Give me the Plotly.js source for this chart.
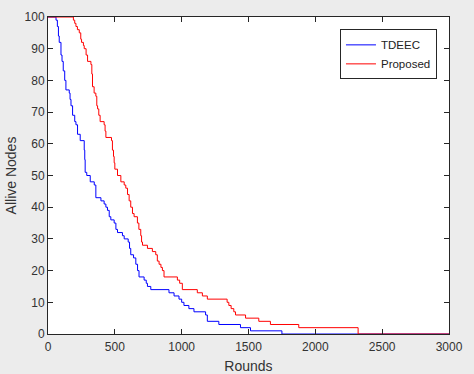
<!DOCTYPE html>
<html>
<head>
<meta charset="utf-8">
<script src="https://cdn.plot.ly/plotly-3.0.1.min.js"></script>
<style>
html,body{margin:0;padding:0;background:#ececec;}
#chart{width:474px;height:374px;}
</style>
</head>
<body>
<div id="chart"></div>
<script>
var tdeecRounds = [0,60,70,78,84,97,105,114,125,134,159,165,172,184,200,209,221,241,271,275,278,290,316,346,358,396,420,433,445,458,470,495,508,520,557,570,600,610,619,640,657,670,681,719,735,744,769,905,943,980,1000,1017,1054,1092,1179,1192,1278,1440,1515,1750,3000];
var tdeecNodes  = [100,99,97,94,92,88,86,83,80,77,76,74,72,69,67,66,63,61,58,55,51,50,48,47,43,42,41,40,39,37,36,35,33,32,31,30,29,27,25,24,22,20,18,17,16,15,14,13,12,11,10,9,8,7,6,4,3,2,1,0,0];

var proposedRounds = [0,190,200,209,220,234,245,251,265,271,285,296,321,328,333,345,358,365,371,380,390,420,427,433,475,482,490,495,500,520,545,570,582,595,607,619,632,644,669,680,694,700,707,744,781,806,818,831,845,856,868,968,985,1005,1117,1155,1192,1340,1353,1370,1390,1403,1478,1577,1664,1876,2320,3000];
var proposedNodes  = [100,99,98,97,96,95,93,92,91,90,88,86,85,82,78,76,75,72,71,69,67,66,64,62,61,58,56,54,52,50,48,47,46,44,42,40,38,37,35,33,31,29,28,27,26,25,23,22,21,20,18,17,16,14,13,12,11,10,9,8,7,6,5,4,3,2,0,0];

var xTickVals = [0,500,1000,1500,2000,2500,3000];
var yTickVals = [0,10,20,30,40,50,60,70,80,90,100];

var seriesNames = ['TDEEC','Proposed'];

var traces = [
  {x: tdeecRounds, y: tdeecNodes, name: seriesNames[0], type:'scatter', mode:'lines',
   line:{shape:'hv', color:'#0000ff', width:1}},
  {x: proposedRounds, y: proposedNodes, name: seriesNames[1], type:'scatter', mode:'lines',
   line:{shape:'hv', color:'#ff0000', width:1}}
];

var axisCommon = {
  showline:true, linecolor:'#262626', linewidth:1, mirror:'ticks',
  ticks:'inside', ticklen:5, tickcolor:'#262626', tickwidth:1,
  showgrid:false, zeroline:false,
  tickfont:{family:'"Liberation Sans", Arial, sans-serif', size:12, color:'#333333'}
};

var layout = {
  width:474, height:374,
  paper_bgcolor:'#ececec', plot_bgcolor:'#ffffff',
  margin:{l:47.5, r:25, t:17, b:40, pad:0},
  showlegend:true,
  font:{family:'"Liberation Sans", Arial, sans-serif', color:'#333333'},
  xaxis: Object.assign({}, axisCommon, {
    range:[0,3000], tickmode:'array', tickvals:xTickVals, ticktext:xTickVals.map(String),
    ticklabelstandoff:2,
    title:{text:'Rounds', font:{size:14, color:'#333333'}, standoff:8}
  }),
  yaxis: Object.assign({}, axisCommon, {
    range:[0,100], tickmode:'array', tickvals:yTickVals, ticktext:yTickVals.map(String),
    title:{text:'Allive Nodes', font:{size:14, color:'#333333'}, standoff:4}
  }),
  legend:{
    x:0.97, y:0.961, xanchor:'right', yanchor:'top',
    bgcolor:'#ffffff', bordercolor:'#262626', borderwidth:1,
    font:{size:11.5, color:'#222222'}, tracegroupgap:0
  }
};

Plotly.newPlot('chart', traces, layout, {displayModeBar:false, staticPlot:true});
</script>
</body>
</html>
